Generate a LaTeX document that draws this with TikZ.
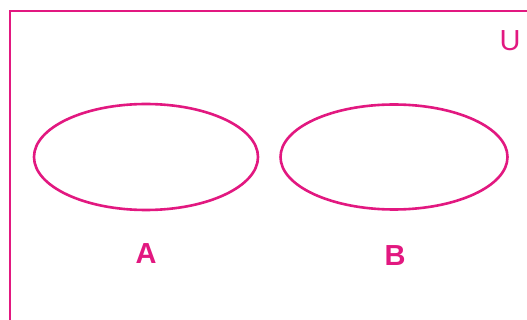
\documentclass[tikz,border=0pt]{standalone}
\usepackage{fontspec}
\setmainfont{Liberation Sans}
\usetikzlibrary{shapes.geometric}
\definecolor{setpink}{RGB}{226,24,128}

\begin{document}
\begin{tikzpicture}[x=1pt,y=-1pt,
        setline/.style={draw=setpink, line width=2.6pt},
        setellipse/.style={setline, ellipse, inner sep=0pt},
        setlabel/.style={font=\fontsize{29}{30}\selectfont\bfseries, color=setpink}]
        \clip (0,0) rectangle (527,320);
        \fill[white] (0,0) rectangle (527,320);
        \draw[setline] (10,11) rectangle (530,323);
        \node[font=\fontsize{29}{30}\selectfont, color=setpink] (univ) at (510,41) {U};
        \node[setellipse, minimum width=224pt, minimum height=106pt] (setA) at (146,157) {};
        \node[setellipse, minimum width=227pt, minimum height=105pt] (setB) at (394,157) {};
        \node[setlabel] (labA) at (146,254) {A};
        \node[setlabel] (labB) at (395,256) {B};
      \end{tikzpicture}
\end{document}
